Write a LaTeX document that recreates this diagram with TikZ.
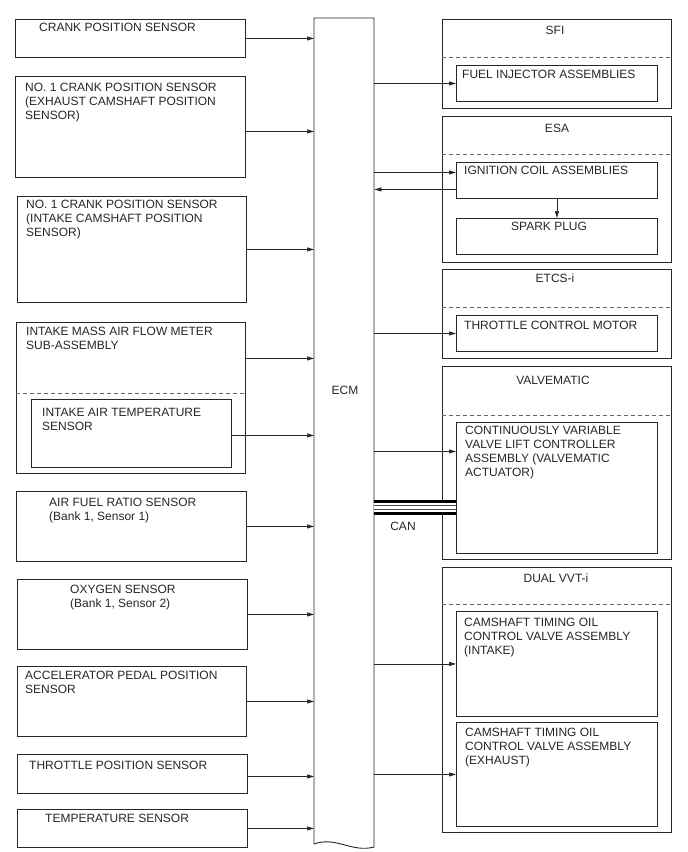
\documentclass[tikz,border=0pt]{standalone}
\usepackage{fontspec}
\setmainfont{Liberation Sans}
\usetikzlibrary{arrows.meta}

\tikzset{
	box/.style={draw=black!85, line width=0.9pt, anchor=north west, inner sep=0pt},
	% multi-line texts: base = baseline of the last line
	txt/.style={anchor=base west, inner sep=0pt, align=left, text=black!85, font=\fontsize{12}{14}\selectfont},
	ttl/.style={anchor=base, inner sep=0pt, text=black!85, font=\fontsize{12}{14}\selectfont},
	sepline/.style={draw=black!60, line width=0.7pt, dash pattern=on 4pt off 3pt},
	arr/.style={draw=black!85, line width=0.7pt, -{Triangle[length=7pt,width=4pt]}},
}

\begin{document}
\begin{tikzpicture}[x=1pt, y=-1pt]
		\useasboundingbox (0,0) rectangle (688,852);
		
		% ==========================================
		% ECM (document shape with wavy bottom)
		% ==========================================
		\node[anchor=north west, inner sep=0pt, minimum width=60pt, minimum height=828pt] (ecm) at (314,18) {};
		\draw[draw=black!85, line width=0.9pt] (314,844) -- (314,18) -- (374,18) -- (374,847)
			.. controls (352,853) and (336,836) .. (314,844);
		\node[ttl] (ecm-t) at (345,394) {ECM};
		
		% ==========================================
		% SENSORS (left column)
		% ==========================================
		\node[box, minimum width=230pt, minimum height=38pt] (crank) at (15,19) {};
		\node[txt] (crank-t) at (39,31) {CRANK POSITION SENSOR};
		
		\node[box, minimum width=230pt, minimum height=101pt] (no1ex) at (15,76) {};
		\node[txt] (no1ex-t) at (25,119) {NO. 1 CRANK POSITION SENSOR\\(EXHAUST CAMSHAFT POSITION\\SENSOR)};
		
		\node[box, minimum width=229pt, minimum height=106pt] (no1in) at (17,196) {};
		\node[txt] (no1in-t) at (26,236) {NO. 1 CRANK POSITION SENSOR\\(INTAKE CAMSHAFT POSITION\\SENSOR)};
		
		\node[box, minimum width=229pt, minimum height=151pt] (maf) at (16,322) {};
		\draw[sepline] (maf.west |- 0,393) -- (maf.east |- 0,393);
		\node[txt] (maf-t) at (26,349) {INTAKE MASS AIR FLOW METER\\SUB-ASSEMBLY};
		\node[box, minimum width=200pt, minimum height=68pt] (iat) at (31,399) {};
		\node[txt] (iat-t) at (42,430) {INTAKE AIR TEMPERATURE\\SENSOR};
		
		\node[box, minimum width=230pt, minimum height=70pt] (afr) at (16,491) {};
		\node[txt] (afr-t) at (49,520) {AIR FUEL RATIO SENSOR\\(Bank 1, Sensor 1)};
		
		\node[box, minimum width=230pt, minimum height=70pt] (oxs) at (17,579) {};
		\node[txt] (oxs-t) at (70,607) {OXYGEN SENSOR\\(Bank 1, Sensor 2)};
		
		\node[box, minimum width=229pt, minimum height=70pt] (apps) at (17,666) {};
		\node[txt] (apps-t) at (25,693) {ACCELERATOR PEDAL POSITION\\SENSOR};
		
		\node[box, minimum width=230pt, minimum height=39pt] (tps) at (17,754) {};
		\node[txt] (tps-t) at (29,769) {THROTTLE POSITION SENSOR};
		
		\node[box, minimum width=230pt, minimum height=38pt] (temp) at (17,809) {};
		\node[txt] (temp-t) at (45,822) {TEMPERATURE SENSOR};
		
		% sensor -> ECM
		\coordinate (no1ex-o) at ([yshift=-4.5pt]no1ex.east);
		\coordinate (maf-o) at ([yshift=39.5pt]maf.east);
		\coordinate (iat-o) at ([yshift=-2pt]iat.east);
		\coordinate (tps-o) at ([yshift=-2.5pt]tps.east);
		\foreach \s in {crank, no1in, afr, oxs, apps, temp} {
			\draw[arr] (\s.east) -- (\s.east -| ecm.west);
		}
		\foreach \s in {no1ex-o, maf-o, iat-o, tps-o} {
			\draw[arr] (\s) -- (\s -| ecm.west);
		}
		
		% ==========================================
		% ACTUATOR GROUPS (right column)
		% ==========================================
		% SFI
		\node[box, minimum width=229pt, minimum height=89pt] (sfi) at (442,19) {};
		\draw[sepline] (sfi.west |- 0,57) -- (sfi.east |- 0,57);
		\node[ttl] (sfi-t) at (555,34) {SFI};
		\node[box, minimum width=201pt, minimum height=36pt] (inj) at (456,65) {};
		\node[txt] (inj-t) at (462,78) {FUEL INJECTOR ASSEMBLIES};
		
		% ESA
		\node[box, minimum width=229pt, minimum height=146pt] (esa) at (442,116) {};
		\draw[sepline] (esa.west |- 0,154) -- (esa.east |- 0,154);
		\node[ttl] (esa-t) at (557,132) {ESA};
		\node[box, minimum width=201pt, minimum height=36pt] (ign) at (456,162) {};
		\node[txt] (ign-t) at (464,174) {IGNITION COIL ASSEMBLIES};
		\node[box, minimum width=201pt, minimum height=36pt] (plug) at (456,218) {};
		\node[txt] (plug-t) at (511,230) {SPARK PLUG};
		
		% ETCS-i
		\node[box, minimum width=229pt, minimum height=89pt] (etcs) at (442,269) {};
		\draw[sepline] (etcs.west |- 0,307) -- (etcs.east |- 0,307);
		\node[ttl] (etcs-t) at (555,282) {ETCS-i};
		\node[box, minimum width=201pt, minimum height=36pt] (tcm) at (456,315) {};
		\node[txt] (tcm-t) at (464,329) {THROTTLE CONTROL MOTOR};
		
		% VALVEMATIC
		\node[box, minimum width=229pt, minimum height=193pt] (vmat) at (442,366) {};
		\draw[sepline] (vmat.west |- 0,415) -- (vmat.east |- 0,415);
		\node[ttl] (vmat-t) at (553,384) {VALVEMATIC};
		\node[box, minimum width=201pt, minimum height=131pt] (cvvl) at (456,422) {};
		\node[txt] (cvvl-t) at (465,476) {CONTINUOUSLY VARIABLE\\VALVE LIFT CONTROLLER\\ASSEMBLY (VALVEMATIC\\ACTUATOR)};
		
		% DUAL VVT-i
		\node[box, minimum width=229pt, minimum height=265pt] (vvt) at (442,567) {};
		\draw[sepline] (vvt.west |- 0,604) -- (vvt.east |- 0,604);
		\node[ttl] (vvt-t) at (556,582) {DUAL VVT-i};
		\node[box, minimum width=201pt, minimum height=105pt] (ocvin) at (456,611) {};
		\node[txt] (ocvin-t) at (464,654) {CAMSHAFT TIMING OIL\\CONTROL VALVE ASSEMBLY\\(INTAKE)};
		\node[box, minimum width=201pt, minimum height=104pt] (ocvex) at (456,722) {};
		\node[txt] (ocvex-t) at (465,764) {CAMSHAFT TIMING OIL\\CONTROL VALVE ASSEMBLY\\(EXHAUST)};
		
		% ECM -> actuators
		\coordinate (ign-i) at ([yshift=8pt]ign.west);
		\coordinate (ign-o) at ([yshift=-9pt]ign.west);
		\coordinate (cvvl-i) at ([yshift=36.5pt]cvvl.west);
		\foreach \a in {inj, tcm, ocvin, ocvex} {
			\draw[arr] (\a.west -| ecm.east) -- (\a.west);
		}
		\draw[arr] (ign-i -| ecm.east) -- (ign-i);
		\draw[arr] (cvvl-i -| ecm.east) -- (cvvl-i);
		\draw[arr] (ign-o) -- (ign-o -| ecm.east);
		\draw[arr] (ign.south) -- (plug.north);
		
		% ==========================================
		% CAN BUS
		% ==========================================
		\fill[white] (ecm.east |- 0,500) rectangle (cvvl.west |- 0,515);
		\draw[line width=2.5pt] (ecm.east |- 0,501.5) -- (cvvl.west |- 0,501.5);
		\draw[line width=0.8pt, black!70] (ecm.east |- 0,505.8) -- (cvvl.west |- 0,505.8);
		\draw[line width=0.8pt, black!70] (ecm.east |- 0,509.2) -- (cvvl.west |- 0,509.2);
		\draw[line width=2.5pt] (ecm.east |- 0,513.5) -- (cvvl.west |- 0,513.5);
		\node[ttl] (can-t) at (403,530) {CAN};
		
\end{tikzpicture}
\end{document}
